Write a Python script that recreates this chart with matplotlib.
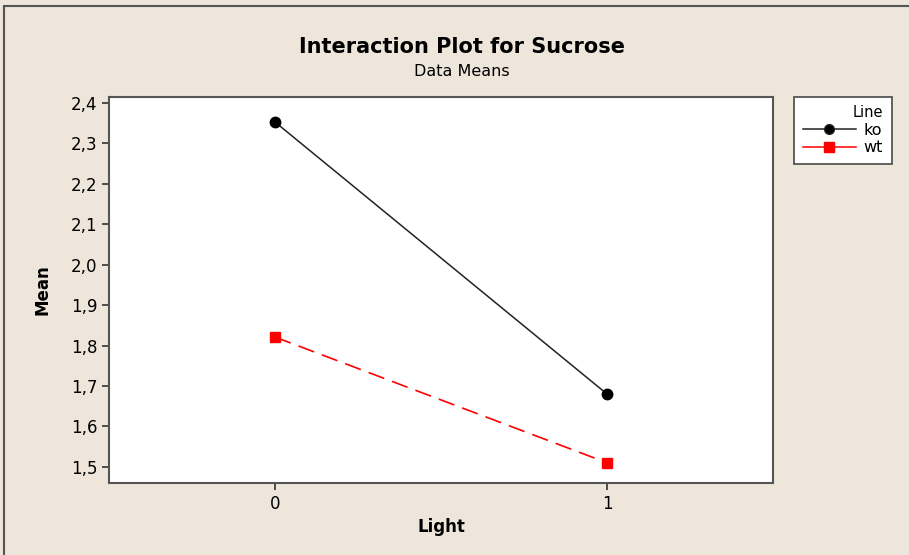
import matplotlib.pyplot as plt
from matplotlib.lines import Line2D
from matplotlib.ticker import FuncFormatter

# Data means
light_levels = [0, 1]
ko_means = [2.353, 1.680]
wt_means = [1.821, 1.510]
y_ticks = [1.5, 1.6, 1.7, 1.8, 1.9, 2.0, 2.1, 2.2, 2.3, 2.4]

bg = "#EEE6DA"
plt.rcParams["font.family"] = "DejaVu Sans"

fig = plt.figure(figsize=(9.09, 5.55), dpi=100, facecolor=bg)
ax = fig.add_axes([0.12, 0.1297, 0.7305, 0.6955])

ax.plot(light_levels, ko_means, color="#222222", linewidth=1.1,
        marker="o", markersize=7.5, markerfacecolor="black",
        markeredgecolor="black", label="ko")
ax.plot(light_levels, wt_means, color="red", linewidth=1.2,
        linestyle=(0, (10, 5)), marker="s", markersize=7,
        markerfacecolor="red", markeredgecolor="red", label="wt")

ax.set_xlim(-0.5, 1.5)
ax.set_ylim(1.46, 2.415)
ax.set_xticks(light_levels)
ax.set_yticks(y_ticks)
# Komos kaip dešimtainis skyriklis
ax.yaxis.set_major_formatter(FuncFormatter(lambda v, _: f"{v:.1f}".replace(".", ",")))
ax.tick_params(labelsize=12, length=5, width=1.2, color="#333333")

for sp in ax.spines.values():
    sp.set_color("#555555")
    sp.set_linewidth(1.5)

ax.set_xlabel("Light", fontsize=12, fontweight="bold", labelpad=4)
ax.set_ylabel("Mean", fontsize=12, fontweight="bold", labelpad=14)

fig.text(0.5083, 0.915, "Interaction Plot for Sucrose", ha="center", va="center",
         fontsize=15, fontweight="bold")
fig.text(0.5083, 0.872, "Data Means", ha="center", va="center", fontsize=11.5)

# Legenda dešinėje
handles = [
    Line2D([0], [0], color="#222222", linewidth=1.1, marker="o", markersize=7,
           markerfacecolor="black"),
    Line2D([0], [0], color="red", linewidth=1.1, marker="s", markersize=6.5,
           markerfacecolor="red"),
]
leg = fig.legend(handles, ["ko", "wt"], title="Line", loc="upper left",
                 bbox_to_anchor=(0.8735, 0.826), fontsize=11.5, title_fontsize=10.5,
                 frameon=True, fancybox=False, edgecolor="#555555", framealpha=1,
                 handlelength=3.3, borderpad=0.55, labelspacing=0.15,
                 handletextpad=0.5, borderaxespad=0)
leg.get_frame().set_linewidth(1.3)
leg._legend_box.align = "right"

# Rėmelis kairėje ir viršuje
fig.add_artist(Line2D([4 / 909, 4 / 909], [0, 1 - 6 / 555], color="#555555",
                      linewidth=1.5, transform=fig.transFigure))
fig.add_artist(Line2D([4 / 909, 1], [1 - 6 / 555, 1 - 6 / 555], color="#555555",
                      linewidth=1.5, transform=fig.transFigure))

plt.savefig("out.png", dpi=100, facecolor=bg)
